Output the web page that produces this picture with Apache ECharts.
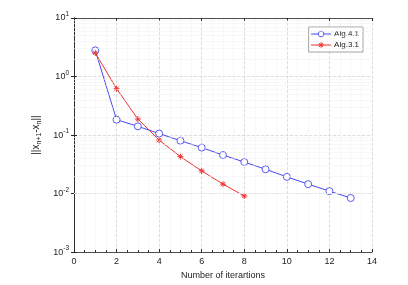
<!DOCTYPE html>
<html><head><meta charset="utf-8">
<script src="https://cdn.jsdelivr.net/npm/echarts@6/dist/echarts.min.js"></script>
<style>html,body{margin:0;padding:0;background:#fff}#c{width:408px;height:285px}</style>
</head><body><div id="c"></div>
<script>
const iterA = [1,2,3,4,5,6,7,8,9,10,11,12,13];
const alg41 = [2.8,0.183,0.141,0.106,0.080,0.061,0.0455,0.0346,0.026,0.0193,0.0145,0.0110,0.0084];
const iterB = [1,2,3,4,5,6,7,8];
const alg31 = [2.53,0.62,0.188,0.082,0.0427,0.0244,0.0145,0.0091];
const xTicks = [0,2,4,6,8,10,12,14];
const yDecades = [-3,-2,-1,0,1];
const seriesNames = ['Alg.4.1','Alg.3.1'];

const minorY = [];
for (let d = -3; d < 1; d++) for (let k = 2; k <= 9; k++) minorY.push({yAxis: k*Math.pow(10,d)});

const font = 'Liberation Sans, Arial, sans-serif';
const axisCol = '#262626';
const blue = '#4747f0', red = '#ee3333';
const star = 'path://M0 5 L10 5 M5 0 L5 10 M1.5 1.5 L8.5 8.5 M8.5 1.5 L1.5 8.5';

const chart = echarts.init(document.getElementById('c'), null, {renderer:'canvas'});
chart.setOption({
  animation: false,
  backgroundColor: '#fff',
  grid: {left: 74, right: 36, top: 18, bottom: 31, show: false},
  legend: {
    right: 45, top: 27, orient: 'vertical',
    data: [
      {name: seriesNames[0], itemStyle: {color: '#fff', borderColor: blue, borderWidth: 0.9}, lineStyle: {color: blue, width: 1}},
      {name: seriesNames[1], itemStyle: {color: 'rgba(0,0,0,0)', borderColor: red, borderWidth: 1}, lineStyle: {color: red, width: 1}}
    ],
    backgroundColor: '#fff', borderColor: '#8a8a8a', borderWidth: 0.8,
    padding: [3, 4, 3, 2], itemGap: 3, itemWidth: 20, itemHeight: 7,
    textStyle: {fontFamily: font, fontSize: 8, color: '#222', padding: [0,0,0,-2]}
  },
  xAxis: [{
    type: 'value', min: 0, max: 14, interval: 2,
    name: 'Number of iterartions', nameLocation: 'middle', nameGap: 18,
    nameTextStyle: {fontFamily: font, fontSize: 9, color: '#222'},
    axisLine: {show: true, lineStyle: {color: axisCol, width: 0.8}},
    axisTick: {show: true, inside: true, length: 3, lineStyle: {color: axisCol}},
    axisLabel: {fontFamily: font, fontSize: 9, color: '#222', margin: 5},
    splitLine: {show: true, lineStyle: {color: '#d4d4d4', type: 'dashed', width: 0.8}},
    minorTick: {show: true, splitNumber: 4, length: 2, lineStyle: {color: axisCol}},
    minorSplitLine: {show: true, lineStyle: {color: '#ececec', type: 'dotted', width: 0.8}}
  }, {
    type: 'value', min: 0, max: 14, interval: 2, position: 'top',
    axisLine: {show: true, lineStyle: {color: axisCol, width: 0.8}},
    axisTick: {show: true, inside: true, length: 3, lineStyle: {color: axisCol}},
    axisLabel: {show: false}, splitLine: {show: false}
  }],
  yAxis: [{
    type: 'log', logBase: 10, min: 0.001, max: 10,
    name: '||x{sub|n+1}-x{sub|n}||', nameLocation: 'middle', nameGap: 28,
    nameTextStyle: {fontFamily: font, fontSize: 10, color: '#222',
      rich: {sub: {fontFamily: font, fontSize: 7, color: '#222', verticalAlign: 'top', padding: [6,0,0,0]}}},
    axisLine: {show: true, lineStyle: {color: axisCol, width: 0.8}},
    axisTick: {show: true, inside: true, length: 3, lineStyle: {color: axisCol}},
    axisLabel: {fontFamily: font, fontSize: 9, color: '#222', margin: 5,
      formatter: function(v){ return '10{sup|' + Math.round(Math.log10(v)) + '}'; },
      rich: {sup: {fontFamily: font, fontSize: 6.5, color: '#222', verticalAlign: 'bottom', padding: [0,0,7,0]}}},
    splitLine: {show: true, lineStyle: {color: '#d4d4d4', type: 'dashed', width: 0.8}}
  }, {
    type: 'log', logBase: 10, min: 0.001, max: 10, position: 'right',
    axisLine: {show: true, lineStyle: {color: axisCol, width: 0.8}},
    axisTick: {show: true, inside: true, length: 3, lineStyle: {color: axisCol}},
    axisLabel: {show: false}, splitLine: {show: false}
  }],
  series: [{
    name: 'grid-minor', type: 'line', data: [], silent: true,
    markLine: {silent: true, symbol: 'none', label: {show: false},
      lineStyle: {color: '#ececec', type: 'dotted', width: 0.8}, data: minorY}
  }, {
    name: seriesNames[0], type: 'line',
    data: iterA.map((x,i)=>[x, alg41[i]]),
    symbol: 'circle', symbolSize: 7, showSymbol: true,
    lineStyle: {color: blue, width: 1},
    itemStyle: {color: '#fff', borderColor: blue, borderWidth: 0.9, opacity: 1},
    z: 3
  }, {
    name: seriesNames[1], type: 'line',
    data: iterB.map((x,i)=>[x, alg31[i]]),
    symbol: star, symbolSize: 6, showSymbol: true,
    lineStyle: {color: red, width: 1},
    itemStyle: {color: 'rgba(0,0,0,0)', borderColor: red, borderWidth: 1},
    z: 4
  }]
});
</script></body></html>
